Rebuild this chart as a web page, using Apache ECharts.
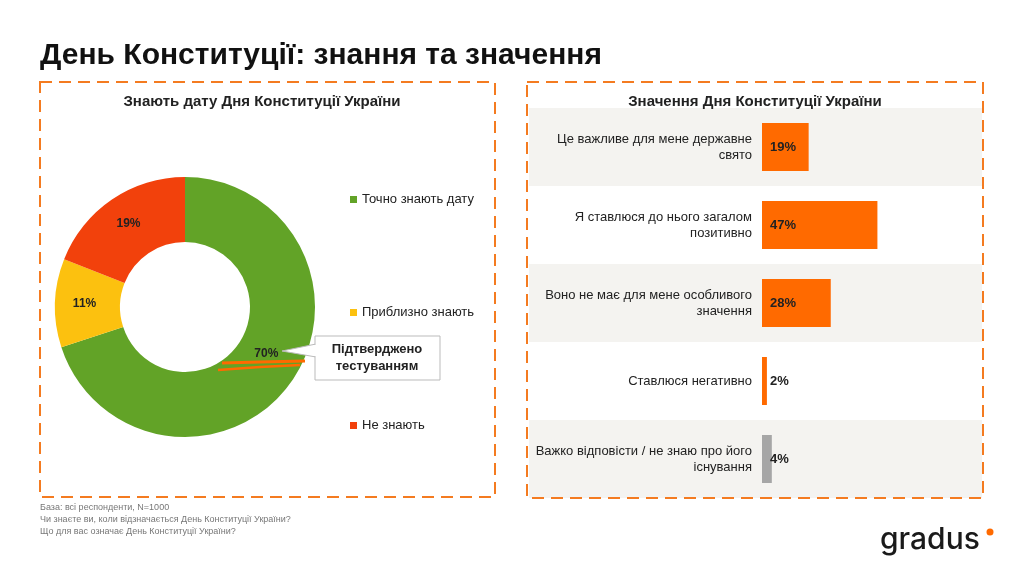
<!DOCTYPE html>
<html>
<head>
<meta charset="utf-8">
<script src="https://cdn.jsdelivr.net/npm/echarts@6/dist/echarts.min.js"></script>
<style>
  html, body { margin: 0; padding: 0; background: #fff; }
  #main { width: 1024px; height: 576px; }
</style>
</head>
<body>
<div id="main"></div>
<script>
var pieNames = ["Точно знають дату", "Приблизно знають", "Не знають"];
var pieValues = [70, 11, 19];
var pieColors = ["#62a327", "#fcc10f", "#f2410c"];

var barCategories = [
  "Це важливе для мене державне\nсвято",
  "Я ставлюся до нього загалом\nпозитивно",
  "Воно не має для мене особливого\nзначення",
  "Ставлюся негативно",
  "Важко відповісти / не знаю про його\nіснування"
];
var barValues = [19, 47, 28, 2, 4];
var barColors = ["#ff6a00", "#ff6a00", "#ff6a00", "#ff6a00", "#a6a6a6"];

var font = "'Liberation Sans', Arial, sans-serif";
var orange = "#f47b20";

var myChart = echarts.init(document.getElementById("main"));

var pieData = [];
for (let i = 0; i < pieNames.length; i++) {
  let item = { name: pieNames[i], value: pieValues[i], itemStyle: { color: pieColors[i] } };
  // the big slice label sits a bit higher, above the scribbles
  if (i === 0) item.label = { offset: [0, -12] };
  pieData.push(item);
}
var barData = [];
for (let i = 0; i < barValues.length; i++) {
  barData.push({ value: barValues[i], itemStyle: { color: barColors[i] } });
}

var option = {
  backgroundColor: "#fff",
  textStyle: { fontFamily: font },
  title: [
    {
      text: "День Конституції: знання та значення",
      left: 35, top: 36,
      textStyle: { fontSize: 30, fontWeight: "bold", color: "#111", fontFamily: font }
    },
    {
      text: "Знають дату Дня Конституції України",
      left: 257, top: 89, textAlign: "center",
      textStyle: { fontSize: 15, fontWeight: "bold", color: "#222", fontFamily: font }
    },
    {
      text: "Значення Дня Конституції України",
      left: 750, top: 89, textAlign: "center",
      textStyle: { fontSize: 15, fontWeight: "bold", color: "#222", fontFamily: font }
    }
  ],
  legend: {
    orient: "vertical",
    left: 345, top: 188,
    itemGap: 100,
    itemWidth: 7, itemHeight: 7,
    icon: "rect",
    data: pieNames,
    textStyle: { fontSize: 13, color: "#222", fontFamily: font }
  },
  grid: [
    { left: 762, right: 41, top: 108, bottom: 78 },
    { left: 529, right: 42, top: 108, bottom: 78 }
  ],
  xAxis: [
    { type: "value", gridIndex: 0, min: 0, max: 90, show: false },
    { type: "value", gridIndex: 1, min: 0, max: 1, show: false }
  ],
  yAxis: [
    {
      type: "category", gridIndex: 0, inverse: true, data: barCategories,
      axisLine: { show: false }, axisTick: { show: false },
      axisLabel: { margin: 10, fontSize: 13, color: "#222", lineHeight: 16, fontFamily: font },
      z: 5
    },
    {
      type: "category", gridIndex: 1, inverse: true, data: barCategories,
      axisLine: { show: false }, axisTick: { show: false }, axisLabel: { show: false },
      splitArea: { show: true, areaStyle: { color: ["#f4f3f0", "#ffffff"] } },
      z: 0
    }
  ],
  series: [
    {
      type: "pie",
      center: [185, 307],
      radius: [65, 130],
      startAngle: 90,
      clockwise: true,
      data: pieData,
      label: {
        show: true, position: "inside", formatter: "{c}%",
        fontSize: 12, fontWeight: "bold", color: "#222", fontFamily: font
      },
      labelLine: { show: false },
      emphasis: { disabled: true }
    },
    {
      type: "bar",
      xAxisIndex: 0, yAxisIndex: 0,
      data: barData,
      barWidth: 48,
      label: {
        show: true, position: "insideLeft", distance: 8, formatter: "{c}%",
        fontSize: 13, fontWeight: "bold", color: "#222", fontFamily: font
      },
      z: 3
    }
  ],
  graphic: [
    {
      type: "rect", shape: { x: 40, y: 82, width: 455, height: 415 },
      style: { fill: "none", stroke: orange, lineWidth: 2, lineDash: [12, 7] }, z: 10
    },
    {
      type: "rect", shape: { x: 527, y: 82, width: 456, height: 416 },
      style: { fill: "none", stroke: orange, lineWidth: 2, lineDash: [12, 7] }, z: 10
    },
    // callout
    {
      type: "polygon", shape: { points: [[282, 351], [316, 344], [316, 357]] },
      style: { fill: "#fff", stroke: "#bbb", lineWidth: 1 }, z: 11
    },
    {
      type: "rect", shape: { x: 315, y: 336, width: 125, height: 44 },
      style: { fill: "#fff", stroke: "#bbb", lineWidth: 1 }, z: 11
    },
    {
      type: "rect", shape: { x: 314, y: 345, width: 3, height: 11 },
      style: { fill: "#fff" }, z: 12
    },
    {
      type: "text", x: 377, y: 358, z: 13,
      style: {
        text: "Підтверджено\nтестуванням", align: "center", verticalAlign: "middle",
        font: "bold 13px " + font, fill: "#222", lineHeight: 17
      }
    },
    {
      type: "polyline", shape: { points: [[222, 363], [260, 362], [305, 361]] },
      style: { stroke: "#ff6a00", lineWidth: 3, fill: "none" }, z: 11
    },
    {
      type: "polyline", shape: { points: [[218, 370], [260, 367], [300, 365]] },
      style: { stroke: "#ff6a00", lineWidth: 2.5, fill: "none" }, z: 11
    },
    // footnotes
    {
      type: "text", left: 40, top: 502, z: 10,
      style: {
        text: "База: всі респонденти, N=1000\nЧи знаєте ви, коли відзначається День Конституції України?\nЩо для вас означає День Конституції України?",
        font: "9px " + font, fill: "#777", lineHeight: 12
      }
    },
    // logo
    {
      type: "text", x: 880, y: 540, z: 10,
      style: {
        text: "gradus", align: "left", verticalAlign: "middle",
        font: "500 30px Inter, 'Noto Sans', sans-serif", fill: "#1a1a1a"
      }
    },
    {
      type: "circle", shape: { cx: 990, cy: 532, r: 3.5 },
      style: { fill: "#ff6a00" }, z: 10
    }
  ]
};

myChart.setOption(option, true);
</script>
</body>
</html>
